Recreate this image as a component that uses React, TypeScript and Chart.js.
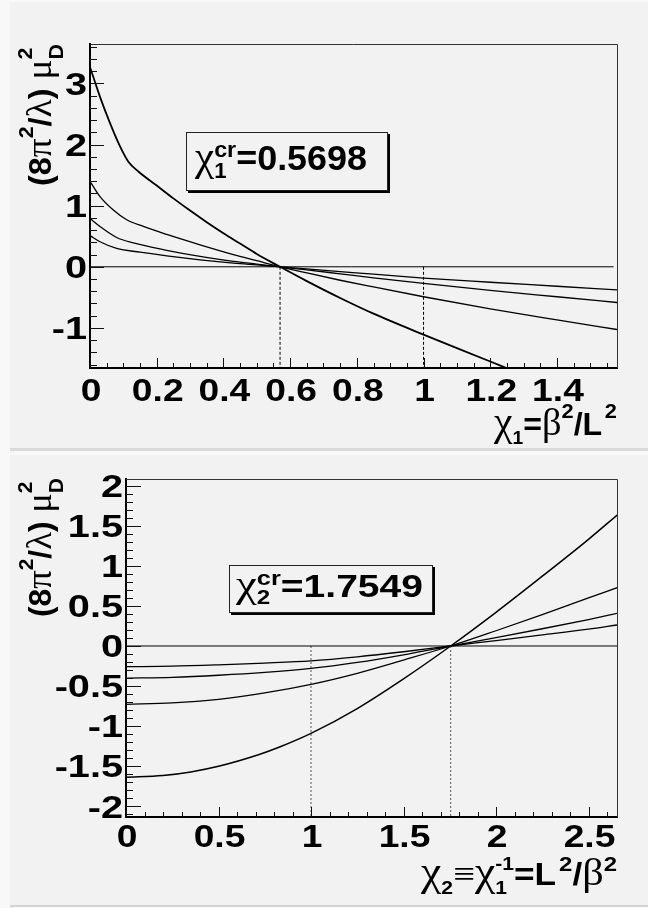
import React, { useEffect, useRef } from "react";
import { Chart, registerables } from "chart.js";
Chart.register(...registerables);

// ================= Upper panel data: chi1 = beta^2 / L^2 =================
const CHI1_CR = 0.5698;
const topC1X = [0, 0.03, 0.06, 0.09, 0.115, 0.145, 0.2, 0.25, 0.3, 0.35, 0.4, 0.45, 0.5, 0.5698, 0.65, 0.75, 0.85, 1.0, 1.1, 1.2, 1.3];
const topC1Y = [3.27, 2.78, 2.35, 1.97, 1.72, 1.56, 1.33, 1.12, 0.92, 0.73, 0.55, 0.38, 0.21, 0, -0.234, -0.51, -0.767, -1.11, -1.33, -1.55, -1.77];
const topC2X = [0, 0.03, 0.07, 0.11, 0.16, 0.23, 0.33, 0.43, 0.5, 0.5698, 0.65, 0.75, 0.85, 1.0, 1.2, 1.4, 1.58];
const topC2Y = [1.4, 1.15, 0.93, 0.77, 0.66, 0.53, 0.36, 0.2, 0.1, 0, -0.1, -0.22, -0.33, -0.49, -0.69, -0.87, -1.026];
const topC3X = [0, 0.03, 0.08, 0.13, 0.23, 0.33, 0.43, 0.5, 0.5698, 0.65, 0.75, 0.85, 1.0, 1.2, 1.4, 1.58];
const topC3Y = [0.79, 0.66, 0.48, 0.39, 0.27, 0.17, 0.09, 0.045, 0, -0.05, -0.115, -0.18, -0.272, -0.385, -0.49, -0.584];
const topC4X = [0, 0.03, 0.08, 0.15, 0.23, 0.33, 0.43, 0.5, 0.5698, 0.65, 0.75, 0.85, 1.0, 1.2, 1.4, 1.58];
const topC4Y = [0.51, 0.41, 0.3, 0.24, 0.18, 0.115, 0.06, 0.03, 0, -0.035, -0.078, -0.12, -0.185, -0.253, -0.318, -0.377];
const topZeroX = [0, 1.57];
const topZeroY = [0, 0];
const topDashX = [CHI1_CR, 1];
const topXRange = [0, 1.58];
const topYRange = [-1.656, 3.646];
const topXTicks = [0, 0.2, 0.4, 0.6, 0.8, 1, 1.2, 1.4];
const topXLabels = ["0", "0.2", "0.4", "0.6", "0.8", "1", "1.2", "1.4"];
const topYTicks = [-1, 0, 1, 2, 3];
const topYLabels = ["-1", "0", "1", "2", "3"];

// ================= Lower panel data: chi2 = 1/chi1 = L^2 / beta^2 =================
const CHI2_CR = 1.7549;
const botC1X = [0, 0.2, 0.35, 0.5, 0.72, 0.83, 1.0, 1.25, 1.5, 1.7549, 2.0, 2.25, 2.5, 2.655];
const botC1Y = [-1.637, -1.615, -1.57, -1.5, -1.353, -1.26, -1.09, -0.78, -0.41, 0, 0.42, 0.87, 1.33, 1.633];
const botCX = [0, 0.25, 0.5, 0.75, 1.0, 1.25, 1.5, 1.7549, 2.0, 2.25, 2.5, 2.655];
const botC2Y = [-0.727, -0.71, -0.665, -0.585, -0.478, -0.34, -0.175, 0, 0.19, 0.39, 0.6, 0.727];
const botC3Y = [-0.4, -0.39, -0.365, -0.33, -0.28, -0.205, -0.11, 0, 0.105, 0.215, 0.33, 0.407];
const botC4Y = [-0.258, -0.252, -0.235, -0.213, -0.185, -0.135, -0.072, 0, 0.068, 0.138, 0.21, 0.262];
const botZeroX = [0, 2.655];
const botZeroY = [0, 0];
const botDashX = [1, CHI2_CR];
const botXRange = [0, 2.654];
const botYRange = [-2.132, 2.082];
const botXTicks = [0, 0.5, 1, 1.5, 2, 2.5];
const botXLabels = ["0", "0.5", "1", "1.5", "2", "2.5"];
const botYTicks = [-2, -1.5, -1, -0.5, 0, 0.5, 1, 1.5, 2];
const botYLabels = ["-2", "-1.5", "-1", "-0.5", "0", "0.5", "1", "1.5", "2"];

// ================= Styling helpers =================
const SANS = '"Liberation Sans", Arial, Helvetica, sans-serif';
const SERIF = '"Liberation Serif", "DejaVu Serif", serif';

type Seg = { t: string; serif?: boolean; s?: number; dy?: number; keep?: boolean };

function fontOf(sg: Seg, base: number) {
  const size = base * (sg.s ?? 1);
  return sg.serif ? `${size}px ${SERIF}` : `bold ${size}px ${SANS}`;
}

function measureRich(ctx: CanvasRenderingContext2D, segs: Seg[], base: number) {
  let w = 0;
  let pend = 0;
  for (const sg of segs) {
    ctx.font = fontOf(sg, base);
    const m = ctx.measureText(sg.t).width;
    if (sg.keep) {
      pend = m;
      continue;
    }
    w += Math.max(m, pend);
    pend = 0;
  }
  return w;
}

function drawRich(
  ctx: CanvasRenderingContext2D,
  segs: Seg[],
  base: number,
  x: number,
  y: number,
  align: "left" | "right",
  width?: number,
  rotate?: boolean
) {
  const nat = measureRich(ctx, segs, base);
  const sx = width ? width / nat : 1;
  ctx.save();
  ctx.translate(x, y);
  if (rotate) ctx.rotate(-Math.PI / 2);
  ctx.translate(align === "right" ? -nat * sx : 0, 0);
  ctx.scale(sx, 1);
  ctx.fillStyle = "#000";
  ctx.textAlign = "left";
  ctx.textBaseline = "alphabetic";
  let cx = 0;
  let pend = 0;
  for (const sg of segs) {
    ctx.font = fontOf(sg, base);
    const m = ctx.measureText(sg.t).width;
    ctx.fillText(sg.t, cx, (sg.dy ?? 0) * base);
    if (sg.keep) {
      pend = m;
      continue;
    }
    cx += Math.max(m, pend);
    pend = 0;
  }
  ctx.restore();
}

// stretched bold label (tick labels)
function drawLabel(ctx: CanvasRenderingContext2D, text: string, size: number, sx: number, x: number, y: number, align: "center" | "right") {
  ctx.save();
  ctx.font = `bold ${size}px ${SANS}`;
  const w = ctx.measureText(text).width * sx;
  const left = align === "center" ? x - w / 2 : x - w;
  ctx.translate(left, y);
  ctx.scale(sx, 1);
  ctx.fillStyle = "#000";
  ctx.textAlign = "left";
  ctx.textBaseline = "alphabetic";
  ctx.fillText(text, 0, 0);
  ctx.restore();
}

const yTitleSegs: Seg[] = [
  { t: "(8" },
  { t: "π", serif: true, s: 1.15 },
  { t: "2", s: 0.66, dy: -0.55 },
  { t: "/" },
  { t: "λ", serif: true, s: 1.15 },
  { t: ") " },
  { t: "μ", serif: true, s: 1.15 },
  { t: "D", s: 0.66, dy: 0.38, keep: true },
  { t: "2", s: 0.66, dy: -0.6 },
];
const topXTitleSegs: Seg[] = [
  { t: "χ", serif: true, s: 1.3 },
  { t: "1", s: 0.6, dy: 0.3 },
  { t: "=" },
  { t: "β", serif: true, s: 1.2 },
  { t: "2", s: 0.68, dy: -0.55 },
  { t: "/L" },
  { t: " ", s: 0.3 },
  { t: "2", s: 0.68, dy: -0.55 },
];
const botXTitleSegs: Seg[] = [
  { t: "χ", serif: true, s: 1.3 },
  { t: "2", s: 0.6, dy: 0.3 },
  { t: "≡", serif: true, s: 1.1 },
  { t: "χ", serif: true, s: 1.3 },
  { t: "1", s: 0.6, dy: 0.3, keep: true },
  { t: "-1", s: 0.6, dy: -0.5 },
  { t: "=" },
  { t: "L" },
  { t: " ", s: 0.3 },
  { t: "2", s: 0.68, dy: -0.45 },
  { t: "/" },
  { t: "β", serif: true, s: 1.2 },
  { t: "2", s: 0.68, dy: -0.45 },
];
const topBoxSegs: Seg[] = [
  { t: "χ", serif: true, s: 1.2 },
  { t: "cr", s: 0.65, dy: -0.37, keep: true },
  { t: "1", s: 0.62, dy: 0.23 },
  { t: "=0.5698" },
];
const botBoxSegs: Seg[] = [
  { t: "χ", serif: true, s: 1.2 },
  { t: "cr", s: 0.65, dy: -0.37, keep: true },
  { t: "2", s: 0.62, dy: 0.23 },
  { t: "=1.7549" },
];

type Curve = { xs: number[]; ys: number[]; w: number };
type PanelSpec = {
  canvasTop: number;
  canvasH: number;
  area: { left: number; top: number; right: number; bottom: number };
  xRange: number[];
  yRange: number[];
  xTicks: number[];
  xLabels: string[];
  yTicks: number[];
  yLabels: string[];
  xStep: [number, number];
  yStep: [number, number];
  xLen: [number, number];
  yLen: [number, number];
  xLabelDy: number;
  yLabelGap: number;
  curves: Curve[];
  zeroX: number[];
  zeroY: number[];
  dashX: number[];
  dashColor: string;
  dashPattern: number[];
  yTitle: { x: number; y: number; w: number };
  xTitle: { segs: Seg[]; x: number; y: number; w: number };
  box: { rect: [number, number, number, number]; segs: Seg[]; base: number; tx: number; ty: number; tw: number };
};

const topSpec: PanelSpec = {
  canvasTop: 0,
  canvasH: 449,
  area: { left: 90, top: 44, right: 617, bottom: 368 },
  xRange: topXRange,
  yRange: topYRange,
  xTicks: topXTicks,
  xLabels: topXLabels,
  yTicks: topYTicks,
  yLabels: topYLabels,
  xStep: [0.2, 0.05],
  yStep: [1, 0.2],
  xLen: [10, 5],
  yLen: [14, 7],
  xLabelDy: 33,
  yLabelGap: 3,
  curves: [
    { xs: topC1X, ys: topC1Y, w: 1.8 },
    { xs: topC2X, ys: topC2Y, w: 1.3 },
    { xs: topC3X, ys: topC3Y, w: 1.3 },
    { xs: topC4X, ys: topC4Y, w: 1.3 },
  ],
  zeroX: topZeroX,
  zeroY: topZeroY,
  dashX: topDashX,
  dashColor: "#000",
  dashPattern: [3, 2],
  yTitle: { x: 51, y: 44, w: 142 },
  xTitle: { segs: topXTitleSegs, x: 617, y: 435, w: 123 },
  box: { rect: [186, 132, 201, 58], segs: topBoxSegs, base: 35, tx: 195, ty: 170, tw: 172 },
};

const botSpec: PanelSpec = {
  canvasTop: 451,
  canvasH: 457,
  area: { left: 126, top: 28, right: 617, bottom: 366 },
  xRange: botXRange,
  yRange: botYRange,
  xTicks: botXTicks,
  xLabels: botXLabels,
  yTicks: botYTicks,
  yLabels: botYLabels,
  xStep: [0.5, 0.1],
  yStep: [0.5, 0.1],
  xLen: [10, 5],
  yLen: [15, 7],
  xLabelDy: 30,
  yLabelGap: 3,
  curves: [
    { xs: botC1X, ys: botC1Y, w: 1.5 },
    { xs: botCX, ys: botC2Y, w: 1.3 },
    { xs: botCX, ys: botC3Y, w: 1.3 },
    { xs: botCX, ys: botC4Y, w: 1.3 },
  ],
  zeroX: botZeroX,
  zeroY: botZeroY,
  dashX: botDashX,
  dashColor: "#555",
  dashPattern: [2, 2],
  yTitle: { x: 51, y: 27, w: 139 },
  xTitle: { segs: botXTitleSegs, x: 617, y: 434, w: 196 },
  box: { rect: [229, 114, 203, 47], segs: botBoxSegs, base: 32, tx: 236, ty: 146, tw: 187 },
};

const LABEL_SIZE = 31;
const X_LABEL_STRETCH = 1.2;
const Y_LABEL_STRETCH = 1.28;

function decorPlugin(p: PanelSpec) {
  return {
    id: "rootDecor",
    afterDraw(chart: any) {
      const ctx: CanvasRenderingContext2D = chart.ctx;
      const a = chart.chartArea;
      const xs = chart.scales.x;
      const ys = chart.scales.y;
      ctx.save();
      // frame top / right
      ctx.strokeStyle = "#333";
      ctx.lineWidth = 1;
      ctx.beginPath();
      ctx.moveTo(a.left, Math.round(a.top) + 0.5);
      ctx.lineTo(Math.round(a.right) + 0.5, Math.round(a.top) + 0.5);
      ctx.lineTo(Math.round(a.right) + 0.5, a.bottom);
      ctx.stroke();
      // inward ticks
      ctx.strokeStyle = "#111";
      const ticks = (min: number, max: number, major: number, minor: number, fn: (v: number, len: number) => void, lens: [number, number]) => {
        const k0 = Math.ceil(min / minor - 1e-6);
        const k1 = Math.floor(max / minor + 1e-6);
        for (let k = k0; k <= k1; k++) {
          const v = k * minor;
          const r = v / major;
          const isMajor = Math.abs(r - Math.round(r)) < 1e-6;
          fn(v, isMajor ? lens[0] : lens[1]);
        }
      };
      ticks(p.yRange[0], p.yRange[1], p.yStep[0], p.yStep[1], (v, len) => {
        const py = Math.round(ys.getPixelForValue(v)) + 0.5;
        ctx.beginPath();
        ctx.moveTo(a.left, py);
        ctx.lineTo(a.left + len, py);
        ctx.stroke();
      }, p.yLen);
      ticks(p.xRange[0], p.xRange[1], p.xStep[0], p.xStep[1], (v, len) => {
        const px = Math.round(xs.getPixelForValue(v)) + 0.5;
        ctx.beginPath();
        ctx.moveTo(px, a.bottom);
        ctx.lineTo(px, a.bottom - len);
        ctx.stroke();
      }, p.xLen);
      // tick labels from the scales' own ticks
      ys.ticks.forEach((t: any, i: number) => {
        const py = ys.getPixelForValue(t.value);
        drawLabel(ctx, p.yLabels[i], LABEL_SIZE, Y_LABEL_STRETCH, a.left - p.yLabelGap, py + LABEL_SIZE * 0.358, "right");
      });
      xs.ticks.forEach((t: any, i: number) => {
        const px = xs.getPixelForValue(t.value);
        drawLabel(ctx, p.xLabels[i], LABEL_SIZE, X_LABEL_STRETCH, px + 1, a.bottom + p.xLabelDy, "center");
      });
      // titles
      drawRich(ctx, yTitleSegs, 32, p.yTitle.x, p.yTitle.y, "right", p.yTitle.w, true);
      drawRich(ctx, p.xTitle.segs, 31, p.xTitle.x, p.xTitle.y, "right", p.xTitle.w);
      // label box with shadow
      const [bx, by, bw, bh] = p.box.rect;
      ctx.fillStyle = "#000";
      ctx.fillRect(bx + 2, by + 2, bw + 1, bh + 1);
      ctx.fillStyle = "#f2f2f2";
      ctx.fillRect(bx, by, bw, bh);
      ctx.strokeStyle = "#222";
      ctx.lineWidth = 1;
      ctx.strokeRect(bx + 0.5, by + 0.5, bw, bh);
      drawRich(ctx, p.box.segs, p.box.base, p.box.tx, p.box.ty, "left", p.box.tw);
      ctx.restore();
    },
  };
}

function buildConfig(p: PanelSpec): any {
  const line = (xs: number[], yv: number[], w: number, extra: any = {}) => ({
    data: xs.map((x, i) => ({ x, y: yv[i] })),
    showLine: true,
    borderColor: "#000",
    borderWidth: w,
    pointRadius: 0,
    pointHoverRadius: 0,
    fill: false,
    clip: 0,
    tension: 0,
    ...extra,
  });
  const datasets = [
    line(p.zeroX, p.zeroY, 1),
    ...p.dashX.map((d) => line([d, d], [0, p.yRange[0]], 1, { borderDash: p.dashPattern, borderColor: p.dashColor })),
    ...p.curves.map((c) => line(c.xs, c.ys, c.w, { cubicInterpolationMode: "monotone" })),
  ];
  return {
    type: "scatter",
    data: { datasets },
    options: {
      animation: false,
      responsive: false,
      maintainAspectRatio: false,
      devicePixelRatio: 1,
      events: [],
      layout: { padding: { top: p.area.top, right: 648 - p.area.right, left: 0, bottom: 0 } },
      plugins: { legend: { display: false }, tooltip: { enabled: false }, title: { display: false } },
      scales: {
        x: {
          type: "linear",
          min: p.xRange[0],
          max: p.xRange[1],
          grid: { display: false, drawTicks: false },
          border: { display: true, color: "#000", width: 2 },
          ticks: { display: false, includeBounds: false, autoSkip: false },
          afterBuildTicks: (s: any) => {
            s.ticks = p.xTicks.map((v) => ({ value: v }));
          },
          afterFit: (s: any) => {
            s.height = p.canvasH - p.area.bottom;
          },
        },
        y: {
          type: "linear",
          min: p.yRange[0],
          max: p.yRange[1],
          grid: { display: false, drawTicks: false },
          border: { display: true, color: "#000", width: 2 },
          ticks: { display: false, includeBounds: false, autoSkip: false },
          afterBuildTicks: (s: any) => {
            s.ticks = p.yTicks.map((v) => ({ value: v }));
          },
          afterFit: (s: any) => {
            s.width = p.area.left;
          },
        },
      },
    },
    plugins: [decorPlugin(p)],
  };
}

function ChartPanel({ spec }: { spec: PanelSpec }) {
  const ref = useRef<HTMLCanvasElement>(null);
  useEffect(() => {
    const chart = new Chart(ref.current as HTMLCanvasElement, buildConfig(spec));
    return () => chart.destroy();
  }, [spec]);
  return (
    <canvas
      ref={ref}
      width={648}
      height={spec.canvasH}
      style={{ position: "absolute", left: 0, top: spec.canvasTop, width: 648, height: spec.canvasH }}
    />
  );
}

export default function App() {
  return (
    <div style={{ position: "absolute", left: 0, top: 0, width: 648, height: 908, background: "#f8f8f8", overflow: "hidden" }}>
      <div style={{ position: "absolute", left: 10, top: 2, width: 638, height: 446, background: "#f2f2f2", borderBottom: "3px solid #d9d9d9" }} />
      <div style={{ position: "absolute", left: 10, top: 455, width: 638, height: 450, background: "#f2f2f2", borderBottom: "2px solid #d4d4d4" }} />
      <ChartPanel spec={topSpec} />
      <ChartPanel spec={botSpec} />
    </div>
  );
}
